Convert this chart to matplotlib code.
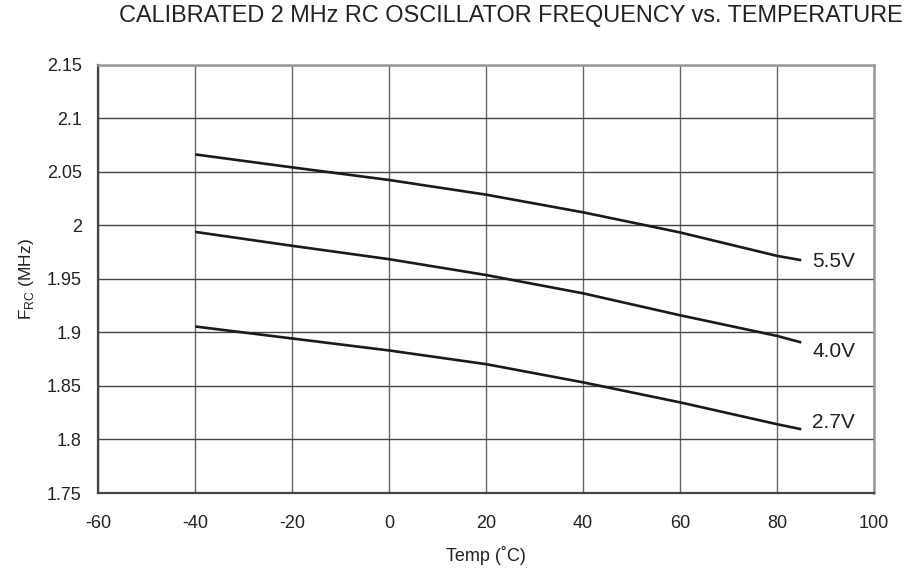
import matplotlib
matplotlib.use("Agg")
import matplotlib.pyplot as plt

plt.rcParams['font.family'] = ['Liberation Sans', 'DejaVu Sans']
plt.rcParams['mathtext.fontset'] = 'custom'
plt.rcParams['mathtext.rm'] = 'Liberation Sans'
plt.rcParams['axes.unicode_minus'] = False

temps = [-40, -20, 0, 20, 40, 60, 80, 85]
f_55 = [2.0664, 2.0543, 2.0425, 2.0288, 2.0123, 1.9935, 1.9716, 1.9676]
f_40 = [1.9940, 1.9810, 1.9685, 1.9537, 1.9366, 1.9161, 1.8968, 1.8907]
f_27 = [1.9056, 1.8944, 1.8832, 1.8704, 1.8534, 1.8347, 1.8143, 1.8096]
series_labels = ["5.5V", "4.0V", "2.7V"]
label_pos = [(87.3, 1.961), (87.3, 1.8772), (87.3, 1.8112)]

xticks = [-60, -40, -20, 0, 20, 40, 60, 80, 100]
yticks = [1.75, 1.8, 1.85, 1.9, 1.95, 2.0, 2.05, 2.1, 2.15]
ytick_labels = ["1.75", "1.8", "1.85", "1.9", "1.95", "2", "2.05", "2.1", "2.15"]

fig = plt.figure(figsize=(9.17, 5.71), dpi=100)
ax = fig.add_axes([0.1072, 0.1366, 0.9531 - 0.1072, 0.8862 - 0.1366])

for ys in (f_55, f_40, f_27):
    ax.plot(temps, ys, color='#1a1a1a', lw=1.9, solid_capstyle='butt',
            solid_joinstyle='round', zorder=3)

for lab, (lx, ly) in zip(series_labels, label_pos):
    ax.text(lx, ly, lab, fontsize=15, color='#222222', va='baseline', ha='left')

ax.set_xlim(-60, 100)
ax.set_ylim(1.75, 2.15)
ax.set_xticks(xticks)
ax.set_yticks(yticks)
ax.set_yticklabels(ytick_labels)
ax.xaxis.grid(True, color='#666666', lw=1.0)
ax.yaxis.grid(True, color='#444444', lw=1.0)
ax.tick_params(axis='both', length=0, labelsize=13, colors='#222222')
ax.tick_params(axis='y', pad=12)
ax.tick_params(axis='x', pad=16)

for side in ('left', 'bottom'):
    ax.spines[side].set_color('#444444')
    ax.spines[side].set_linewidth(1.6)
for side in ('top', 'right'):
    ax.spines[side].set_color('#999999')
    ax.spines[side].set_linewidth(1.8)

ax.set_xlabel("Temp (˚C)", fontsize=13, color='#222222', labelpad=10)
ax.set_ylabel(r"F$_{\mathrm{RC}}$ (MHz)", fontsize=12.5, color='#222222', labelpad=8)

fig.text(903 / 917, 1 - 22 / 571, "CALIBRATED 2 MHz RC OSCILLATOR FREQUENCY vs. TEMPERATURE",
         ha='right', va='baseline', fontsize=16.9, color='#222222')

fig.savefig("out.png", dpi=100)
